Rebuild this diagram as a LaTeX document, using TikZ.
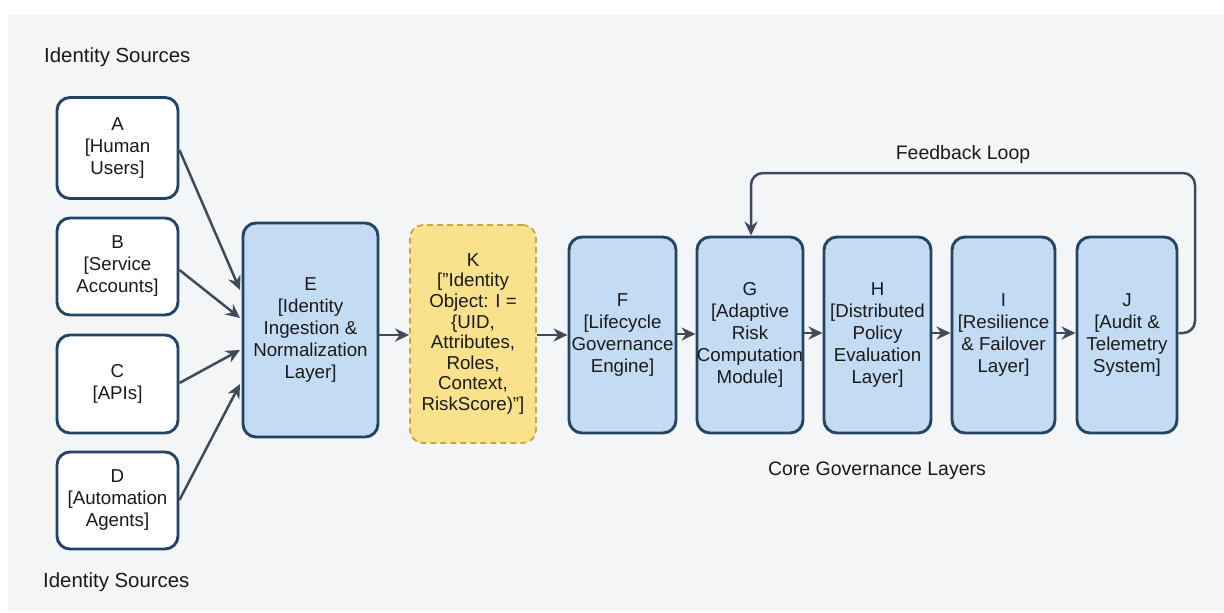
\documentclass[tikz,border=0pt]{standalone}
\usepackage{fontspec}
\setmainfont{Liberation Sans}
\usetikzlibrary{arrows.meta}
\definecolor{bgpanel}{HTML}{F3F5F7}
\definecolor{boxline}{HTML}{234464}
\definecolor{bluefill}{HTML}{C4DCF3}
\definecolor{yellowfill}{HTML}{FAE28C}
\definecolor{yellowline}{HTML}{C9A640}
\definecolor{arrowcol}{HTML}{3E4B5C}
\definecolor{txt}{HTML}{1A1A1A}
\tikzset{
  box/.style={draw=boxline, line width=2.9pt, rounded corners=13pt, align=center,
    text=txt, font=\fontsize{18.7}{22}\selectfont, inner sep=0pt},
  srcbox/.style={box, fill=white},
  corebox/.style={box, fill=bluefill},
  objbox/.style={box, fill=yellowfill, draw=yellowline, dashed, dash pattern=on 6pt off 4pt,
    line width=1.8pt, font=\fontsize{18.7}{20.6}\selectfont},
  flow/.style={draw=arrowcol, line width=2.5pt, -{Stealth[length=14pt,width=13pt]}},
  caption/.style={text=txt, font=\fontsize{19.5}{23}\selectfont, inner sep=0pt}
}
\begin{document}
\begin{tikzpicture}[x=1pt,y=-1pt]
  \useasboundingbox (0,0) rectangle (1224,613);
  \fill[white] (0,0) rectangle (1224,613);
  \fill[bgpanel] (8,15) rectangle (1224,611);

  % identity sources
  \node[srcbox, minimum width=121pt, minimum height=101pt] (A) at (117.5,148) {A\\{[}Human\\Users{]}};
  \node[srcbox, minimum width=121pt, minimum height=97pt] (B) at (117.5,266.5) {B\\{[}Service\\Accounts{]}};
  \node[srcbox, minimum width=121pt, minimum height=98pt] (C) at (117.5,384) {C\\{[}APIs{]}};
  \node[srcbox, minimum width=121pt, minimum height=97pt] (D) at (117.5,500.5) {D\\{[}Automation\\Agents{]}};

  \node[caption, font=\fontsize{20.4}{24}\selectfont, anchor=west] (srcTop) at (44,57) {Identity Sources};
  \node[caption, font=\fontsize{20.4}{24}\selectfont, anchor=west] (srcBot) at (43,582) {Identity Sources};

  % ingestion layer and identity object
  \node[corebox, minimum width=135pt, minimum height=214pt] (E) at (310.5,330) {E\\{[}Identity\\Ingestion \&\\Normalization\\Layer{]}};
  \node[objbox, minimum width=126pt, minimum height=218pt] (K) at (473,334) {K\\{[}"Identity\\Object: I =\\\{UID,\\Attributes,\\Roles,\\Context,\\RiskScore)"{]}};

  % core governance layers
  \node[corebox, minimum width=107pt, minimum height=196pt] (F) at (622.5,335) {F\\{[}Lifecycle\\Governance\\Engine{]}};
  \node[corebox, minimum width=106pt, minimum height=196pt] (G) at (750,335) {G\\{[}Adaptive\\Risk\\Computation\\Module{]}};
  \node[corebox, minimum width=107pt, minimum height=196pt] (H) at (877.5,335) {H\\{[}Distributed\\Policy\\Evaluation\\Layer{]}};
  \node[corebox, minimum width=103pt, minimum height=196pt] (I) at (1003.5,335) {I\\{[}Resilience\\\& Failover\\Layer{]}};
  \node[corebox, minimum width=100pt, minimum height=196pt] (J) at (1127,335) {J\\{[}Audit \&\\Telemetry\\System{]}};

  \node[caption] (coreLbl) at (877,471) {Core Governance Layers};
  \node[caption] (fbLbl) at (963,154) {Feedback Loop};

  % source connectors
  \draw[flow] (A.east |- 0,150) -- (240,290);
  \draw[flow] (B.east |- 0,270) -- (240,318);
  \draw[flow] (C.east |- 0,383) -- (240,350);
  \draw[flow] (D.east |- 0,500) -- (240,384);

  % main pipeline
  \draw[flow] (E.east |- 0,335) -- (K.west |- 0,335);
  \draw[flow] (K.east |- 0,335) -- (F.west |- 0,335);
  \draw[flow] (F.east |- 0,334) -- (G.west |- 0,334);
  \draw[flow] (G.east |- 0,333) -- (H.west |- 0,333);
  \draw[flow] (H.east |- 0,333) -- (I.west |- 0,333);
  \draw[flow] (I.east |- 0,333) -- (J.west |- 0,333);

  % feedback loop
  \coordinate (fbR) at (1195,333);
  \draw[flow, rounded corners=12pt] (J.east |- fbR) -- (fbR) -- (1195,173) -- (751,173) -- (751,0 |- G.north);
\end{tikzpicture}
\end{document}
